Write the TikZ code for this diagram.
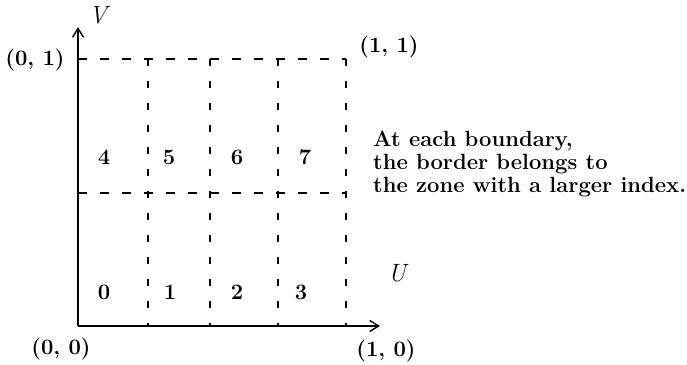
\documentclass[tikz,border=0pt]{standalone}
\usepackage{fontspec}
\usetikzlibrary{arrows.meta}
\begin{document}
\begin{tikzpicture}[x=1pt,y=-1pt,
  txt/.style={inner sep=0pt,font=\fontsize{22}{23}\selectfont\bfseries},
  axlab/.style={inner sep=0pt,font=\fontsize{25}{25}\selectfont\itshape},
  axis/.style={line width=1.6pt,-{Straight Barb[length=9pt,width=11pt,line width=1.4pt]}},
  hgrid/.style={line width=1.2pt,dash pattern=on 9pt off 13pt},
  vgrid/.style={line width=1.2pt,dash pattern=on 7pt off 15pt}]
\useasboundingbox (0,0) rectangle (687,364);
% coordinates
\coordinate (O) at (78,326);
\coordinate (Ytip) at (78,27);
\coordinate (Xtip) at (380,326);
\coordinate (T0) at (78,59);
\coordinate (T4) at (346,59);
\coordinate (M0) at (78,193);
\coordinate (M4) at (346,193);
\foreach \i/\x in {1/148,2/210,3/278,4/346}{
  \coordinate (a\i) at (\x,59);
  \coordinate (b\i) at (\x,326);
}
% grid
\draw[hgrid] (T0) -- (T4);
\draw[hgrid] (M0) -- (M4);
\foreach \i in {1,2,3,4}{\draw[vgrid] (a\i) -- (b\i);}
% axes
\draw[axis] (O) -- (Ytip);
\draw[axis] (O) -- (Xtip);
% labels
\node[axlab] (V) at (98,15) {V};
\node[axlab] (U) at (397,273) {U};
\node[txt] (p01) at (35,60) {(0, 1)};
\node[txt] (p11) at (389,47) {(1, 1)};
\node[txt] (p00) at (61,349) {(0, 0)};
\node[txt] (p10) at (386,351) {(1, 0)};
\node[txt] (z4) at (104,157) {4};
\node[txt] (z5) at (169,157) {5};
\node[txt] (z6) at (237,157) {6};
\node[txt] (z7) at (305,157) {7};
\node[txt] (z0) at (104,292) {0};
\node[txt] (z1) at (170,292) {1};
\node[txt] (z2) at (237,292) {2};
\node[txt] (z3) at (301,292) {3};
\node[txt,anchor=north west,align=left] (note) at (373,131)
  {At each boundary,\\the border belongs to\\the zone with a larger index.};
\end{tikzpicture}
\end{document}
